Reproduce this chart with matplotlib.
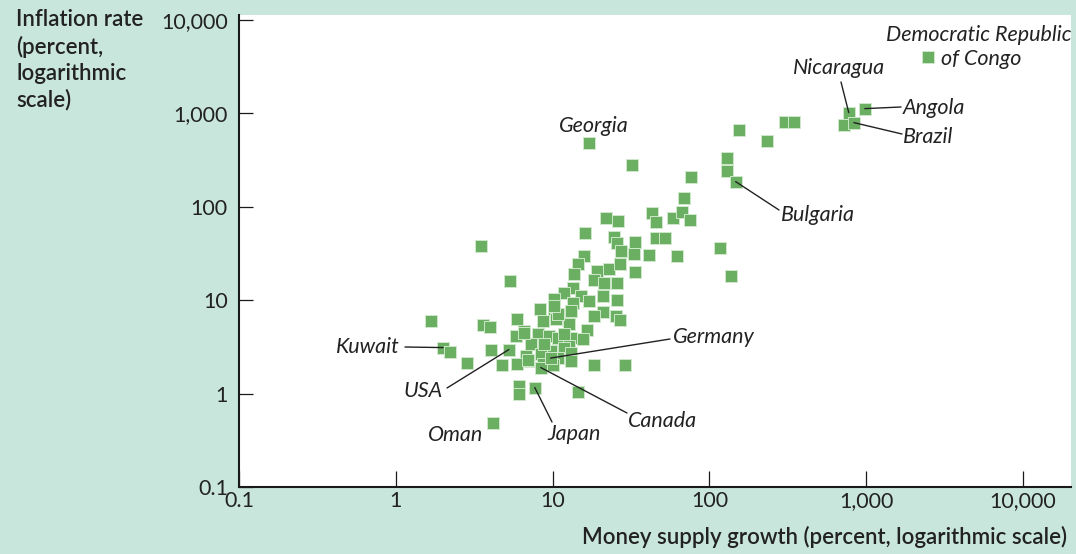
import matplotlib
matplotlib.use("Agg")
import matplotlib.pyplot as plt
import numpy as np

# ---- data ----
money_growth = [
    2470, 774, 980, 720, 834, 303, 345, 154, 232, 129, 129, 147, 76, 68.7, 116, 137, 17.0, 32.0,
    21.8, 26.0, 16.0, 42.9, 45.5, 58.4, 66.7, 75.0, 24.6, 25.7, 33.4, 45.5, 51.9, 27.2, 32.9, 41.1,
    61.9, 15.8, 14.5, 13.7, 19.1, 22.8, 26.8, 33.4, 18.3, 21.2, 25.7, 13.5, 11.8, 15.1, 17.0, 20.9,
    25.7, 10.2, 13.5, 8.3, 10.2, 13.1, 20.9, 18.3, 25.3, 26.8, 8.66, 10.5, 12.7, 16.5, 15.6, 6.55,
    8.05, 9.46, 10.8, 13.1, 7.26, 12.7, 9.74, 11.8, 13.1, 6.75, 8.41, 6.95, 9.74, 13.1, 18.3, 28.9,
    1.67, 3.59, 3.98, 2.0, 2.21, 2.84, 4.04, 4.74, 5.26, 5.91, 5.82, 6.55, 5.91, 6.95, 6.09, 6.09,
    7.7, 4.15, 8.79, 8.66, 10.8, 10.8, 10.2, 11.8, 3.48, 5.34, 14.5, 10.0, 8.41, 9.7,
]
inflation = [
    4060, 1020, 1125, 759, 797, 817, 817, 671, 511, 336, 244, 186, 211, 125, 36.6, 18.3, 487, 283,
    76.6, 71.2, 52.9, 86.7, 69.5, 76.6, 88.9, 72.9, 48.0, 41.4, 42.4, 46.8, 46.8, 34.0, 31.5, 30.8,
    30.0, 30.0, 24.6, 19.3, 20.7, 21.8, 24.6, 19.8, 16.6, 15.4, 15.1, 13.6, 11.8, 11.2, 9.9, 11.2,
    10.1, 10.4, 9.4, 8.1, 7.7, 7.7, 7.55, 6.7, 6.7, 6.2, 6.05, 6.35, 5.6, 4.84, 3.88, 4.73,
    4.39, 4.18, 3.98, 3.98, 3.43, 3.26, 2.89, 3.11, 2.75, 2.55, 2.68, 2.26, 2.26, 2.26, 2.0, 2.0,
    6.05, 5.48, 5.22, 3.11, 2.82, 2.15, 2.96, 2.0, 2.96, 6.35, 4.18, 4.5, 2.1, 2.31, 1.22, 1.0,
    1.16, 0.49, 3.43, 2.1, 2.43, 7.2, 8.75, 4.39, 38.4, 16.2, 1.05, 2.0, 1.9, 2.4,
]

x_ticks = [0.1, 1, 10, 100, 1000, 10000]
x_tick_labels = ["0.1", "1", "10", "100", "1,000", "10,000"]
y_ticks = [0.1, 1, 10, 100, 1000, 10000]
y_tick_labels = ["0.1", "1", "10", "100", "1,000", "10,000"]

# labelled countries: (name, money growth, inflation)
label_names = ["Nicaragua", "Angola", "Brazil", "Bulgaria", "Kuwait", "USA", "Germany", "Canada", "Japan"]
label_money = [774, 980, 834, 147, 2.0, 5.26, 9.7, 8.41, 7.7]
label_infl = [1020, 1125, 797, 186, 3.11, 2.96, 2.4, 1.9, 1.16]

# ---- styling ----
BG = "#c9e6dc"
GREEN = "#6aaf62"
FONT = "Lato"
W, H = 1076, 554

fig = plt.figure(figsize=(W / 100, H / 100), dpi=100, facecolor=BG)
ax = fig.add_axes([239 / W, (H - 487) / H, 832 / W, 472 / H])
ax.set_facecolor("white")
ax.set_xscale("log")
ax.set_yscale("log")
ax.set_xlim(0.1, 10 ** (-1 + 832 / 156.8))
ax.set_ylim(0.1, 10 ** (-1 + 472 / 93.4))

ax.scatter(money_growth, inflation, marker="s", s=78, color=GREEN,
           edgecolors="#cfe8cb", linewidths=0.7, zorder=3)

for s in ["top", "right"]:
    ax.spines[s].set_visible(False)
for s in ["left", "bottom"]:
    ax.spines[s].set_linewidth(1.5)
    ax.spines[s].set_color("#1a1a1a")

ax.set_xticks(x_ticks)
ax.set_xticklabels(x_tick_labels)
ax.set_yticks(y_ticks)
ax.set_yticklabels(y_tick_labels)
ax.minorticks_off()
ax.tick_params(axis="x", direction="in", length=11.5, width=0.9, pad=3,
               labelsize=15.5, colors="#1a1a1a")
ax.tick_params(axis="y", direction="in", length=10, width=0.9, pad=8,
               labelsize=15.5, colors="#1a1a1a")
for lab in ax.get_xticklabels() + ax.get_yticklabels():
    lab.set_fontfamily(FONT)
    lab.set_color("#222222")


def fx(x):
    return x / W


def fy(y):
    return 1 - y / H


# axis titles
fig.text(fx(16), fy(9), "Inflation rate\n(percent,\nlogarithmic\nscale)", ha="left", va="top",
         fontsize=16, fontfamily=FONT, fontweight="semibold", color="#222222", linespacing=1.3)
fig.text(fx(1067), fy(537), "Money supply growth (percent, logarithmic scale)", ha="right",
         va="center", fontsize=16, fontfamily=FONT, fontweight="semibold", color="#222222")

# country labels
lab_kw = dict(fontsize=15.5, fontfamily=FONT, style="italic", color="#222222", va="center")
fig.text(fx(979), fy(35), "Democratic Republic", ha="center", **lab_kw)
fig.text(fx(941), fy(59), "of Congo", ha="left", **lab_kw)
fig.text(fx(839), fy(68), "Nicaragua", ha="center", **lab_kw)
fig.text(fx(903), fy(108), "Angola", ha="left", **lab_kw)
fig.text(fx(903), fy(137), "Brazil", ha="left", **lab_kw)
fig.text(fx(594), fy(126), "Georgia", ha="center", **lab_kw)
fig.text(fx(781), fy(215), "Bulgaria", ha="left", **lab_kw)
fig.text(fx(400), fy(347), "Kuwait", ha="right", **lab_kw)
fig.text(fx(423), fy(391), "USA", ha="center", **lab_kw)
fig.text(fx(673), fy(337), "Germany", ha="left", **lab_kw)
fig.text(fx(628), fy(421), "Canada", ha="left", **lab_kw)
fig.text(fx(574), fy(434), "Japan", ha="center", **lab_kw)
fig.text(fx(456), fy(435), "Oman", ha="center", **lab_kw)

# leader lines: from near the label to the country's point
leader_start = {
    "Nicaragua": (841, 82), "Angola": (901, 107), "Brazil": (902, 134),
    "Bulgaria": (779, 210), "Kuwait": (405, 347), "USA": (447, 388),
    "Germany": (670, 339), "Canada": (627, 413), "Japan": (552, 422),
}
for name, mx, iy in zip(label_names, label_money, label_infl):
    sx, sy = leader_start[name]
    ax.annotate("", xy=(mx, iy), xycoords="data", xytext=(fx(sx), fy(sy)),
                textcoords="figure fraction",
                arrowprops=dict(arrowstyle="-", color="#222222", lw=1.0,
                                shrinkA=0, shrinkB=0), zorder=4)

fig.savefig("out.png", dpi=100, facecolor=BG)
